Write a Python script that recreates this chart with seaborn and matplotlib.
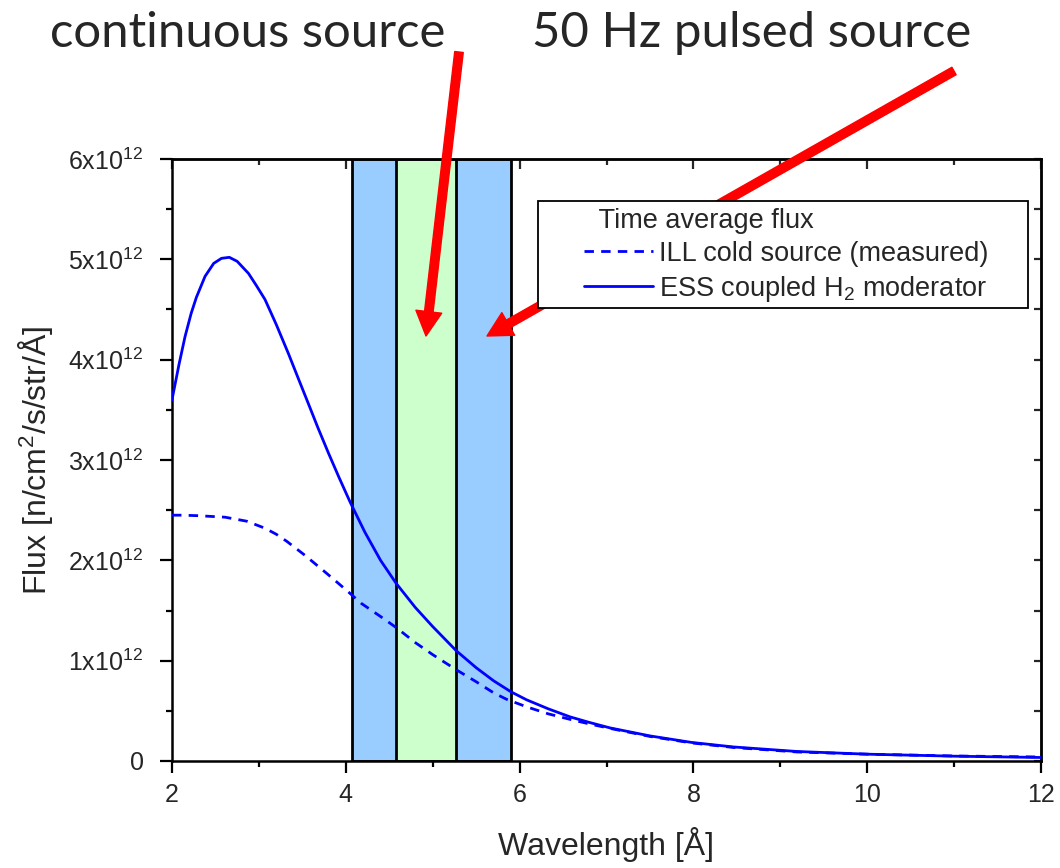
import numpy as np
import pandas as pd
import matplotlib
matplotlib.use("Agg")
import matplotlib.pyplot as plt
import seaborn as sns
from matplotlib.patches import Rectangle
from matplotlib.ticker import MultipleLocator, FuncFormatter

# ---------------- data ----------------
wl_ess = [2.00, 2.08, 2.15, 2.22, 2.28, 2.38, 2.48, 2.57, 2.66, 2.75, 2.88, 2.97,
          3.07, 3.20, 3.34, 3.45, 3.57, 3.68, 3.80, 3.92, 4.05, 4.22, 4.40, 4.58,
          4.80, 5.00, 5.27, 5.50, 5.70, 5.90, 6.08, 6.33, 6.58, 6.80, 7.04, 7.50,
          7.98, 8.46, 9.19, 10.0, 11.0, 12.0]
flux_ess = [3.60, 3.95, 4.23, 4.46, 4.62, 4.83, 4.96, 5.01, 5.02, 4.98, 4.86, 4.74,
            4.60, 4.35, 4.06, 3.82, 3.56, 3.32, 3.07, 2.83, 2.58, 2.28, 2.00, 1.77,
            1.53, 1.34, 1.10, 0.93, 0.80, 0.69, 0.61, 0.52, 0.44, 0.385, 0.33, 0.25,
            0.185, 0.14, 0.095, 0.068, 0.048, 0.035]  # x 1e12

wl_ill = [2.00, 2.11, 2.30, 2.61, 2.86, 3.07, 3.20, 3.32, 3.53, 3.78, 4.01, 4.18,
          4.40, 4.58, 4.80, 5.00, 5.27, 5.50, 5.70, 5.85, 6.08, 6.33, 6.58, 6.80,
          7.04, 7.50, 7.98, 8.46, 9.19, 10.0, 11.0, 12.0]
flux_ill = [2.45, 2.45, 2.445, 2.43, 2.39, 2.32, 2.26, 2.19, 2.05, 1.87, 1.70, 1.57,
            1.44, 1.33, 1.18, 1.06, 0.91, 0.79, 0.68, 0.615, 0.54, 0.47, 0.415, 0.37,
            0.325, 0.245, 0.18, 0.135, 0.09, 0.068, 0.05, 0.04]  # x 1e12

band_left = [4.07, 4.58]    # pulsed (blue), continuous (green)
band_right = [5.90, 5.27]
band_top = 6.0              # x 1e12
band_colors = ["#99CCFF", "#CCFFCC"]

y_ticks = [0, 1, 2, 3, 4, 5, 6]
x_ticks = [2, 4, 6, 8, 10, 12]

label_ill = "ILL cold source (measured)"
label_ess = r"ESS coupled H$_2$ moderator"
legend_title = "Time average flux"
top_left_text = "continuous source"
top_right_text = "50 Hz pulsed source"

SCALE = 1e12

# ---------------- style ----------------
sns.set_theme(style="white")
plt.rcParams["font.family"] = ["Liberation Sans", "DejaVu Sans"]
plt.rcParams["mathtext.fontset"] = "custom"
plt.rcParams["mathtext.rm"] = "Liberation Sans"
plt.rcParams["mathtext.it"] = "Liberation Sans"
plt.rcParams["mathtext.bf"] = "Liberation Sans:bold"

W, H = 1060, 868
fig = plt.figure(figsize=(W / 100, H / 100), dpi=100)
fig.patch.set_facecolor("white")
ax = fig.add_axes([172 / W, (H - 761) / H, (1041 - 172) / W, (761 - 159) / H])
ax.set_facecolor("white")

# bands
for l, r, c in zip(band_left, band_right, band_colors):
    ax.bar((l + r) / 2, band_top * SCALE, width=(r - l), bottom=0, color=c,
           edgecolor="black", linewidth=2.0, zorder=1)

df_ess = pd.DataFrame({"wl": wl_ess, "flux": np.array(flux_ess) * SCALE})
df_ill = pd.DataFrame({"wl": wl_ill, "flux": np.array(flux_ill) * SCALE})

sns.lineplot(data=df_ill, x="wl", y="flux", ax=ax, color="#0000FF", lw=2.0,
             linestyle=(0, (3.4, 2.6)), label=label_ill, zorder=3)
sns.lineplot(data=df_ess, x="wl", y="flux", ax=ax, color="#0000FF", lw=2.0,
             label=label_ess, zorder=3)

ax.set_xlim(2, 12)
ax.set_ylim(0, 6 * SCALE)
ax.set_xticks(x_ticks)
ax.set_yticks([v * SCALE for v in y_ticks])
ax.xaxis.set_minor_locator(MultipleLocator(1))
ax.yaxis.set_minor_locator(MultipleLocator(0.5 * SCALE))


def yfmt(v, pos):
    n = int(round(v / SCALE))
    if n == 0:
        return "0"
    return r"%dx10$^{12}$" % n


ax.yaxis.set_major_formatter(FuncFormatter(yfmt))
ax.set_xlabel("Wavelength [Å]", fontsize=23, labelpad=15)
ax.set_ylabel(r"Flux [n/cm$^{2}$/s/str/Å]", fontsize=23, labelpad=10)

for s in ax.spines.values():
    s.set_linewidth(1.8)
    s.set_color("black")
    s.set_visible(True)

ax.tick_params(axis="both", which="major", direction="out", length=8.5, width=1.6,
               labelsize=18, color="black", bottom=True, left=True)
ax.tick_params(axis="both", which="minor", direction="out", length=4.5, width=1.6,
               color="black", bottom=True, left=True)
ax.tick_params(axis="x", which="major", pad=7)
ax.tick_params(axis="y", which="major", pad=12)

# mirrored inward ticks on top and right
secx = ax.secondary_xaxis("top")
secx.set_xticks(x_ticks)
secx.xaxis.set_minor_locator(MultipleLocator(1))
secx.tick_params(which="major", direction="in", length=7, width=1.6, labeltop=False)
secx.tick_params(which="minor", direction="in", length=4, width=1.6)
secx.spines["top"].set_linewidth(1.8)
secy = ax.secondary_yaxis("right")
secy.set_yticks([v * SCALE for v in y_ticks])
secy.yaxis.set_minor_locator(MultipleLocator(0.5 * SCALE))
secy.tick_params(which="major", direction="in", length=5, width=1.6, labelright=False)
secy.tick_params(which="minor", direction="in", length=5, width=1.6)
secy.spines["right"].set_linewidth(1.8)

# legend frame (drawn separately to match padding)
frame = Rectangle((0.4212, 0.7525), 0.985 - 0.4212, 0.9302 - 0.7525,
                  transform=ax.transAxes, facecolor="white", edgecolor="black",
                  linewidth=1.3, zorder=5, clip_on=False)
ax.add_patch(frame)

handles, labels = ax.get_legend_handles_labels()
leg = ax.legend(handles, labels, title="  " + legend_title, loc="upper left",
                bbox_to_anchor=((584 - 172) / 869, (761 - 208) / 602),
                frameon=False, fontsize=19.5, title_fontsize=19.5,
                handlelength=2.55, handletextpad=0.22, labelspacing=0.25,
                borderpad=0, borderaxespad=0, alignment="left")
leg.set_zorder(6)

# red arrows
arrow_kw = dict(arrowstyle="simple,head_length=0.8,head_width=0.85,tail_width=0.28",
                color="#FF0000", mutation_scale=22, shrinkA=0, shrinkB=0)
ax.annotate("", xy=(426, H - 336), xycoords="figure pixels",
            xytext=(459, H - 52), textcoords="figure pixels",
            arrowprops=arrow_kw, annotation_clip=False, zorder=4)
ax.annotate("", xy=(487, H - 336), xycoords="figure pixels",
            xytext=(954, H - 71), textcoords="figure pixels",
            arrowprops=arrow_kw, annotation_clip=False, zorder=4)

# top annotations
fig.text(50 / W, (H - 47) / H, top_left_text, fontsize=35.4, family="Lato",
         ha="left", va="baseline")
fig.text(532 / W, (H - 47) / H, top_right_text, fontsize=35.4, family="Lato",
         ha="left", va="baseline")

fig.savefig("out.png", dpi=100, facecolor="white")
